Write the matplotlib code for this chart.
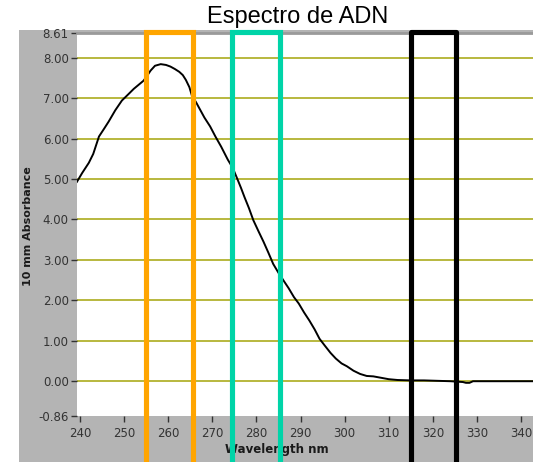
import matplotlib
matplotlib.use("Agg")
import matplotlib.pyplot as plt
from matplotlib.lines import Line2D
from matplotlib.patches import Rectangle
from matplotlib.transforms import blended_transform_factory

# espectro
wavelength = [239.3, 240.5, 242.0, 243.0, 244.3, 245.5, 246.5, 248.0, 249.5, 251.0,
              252.2, 253.3, 254.4, 255.2, 256.0, 257.0, 258.3, 259.5, 260.5, 261.5,
              262.5, 263.3, 264.0, 264.8, 265.4, 266.3, 267.3, 268.2, 269.5, 270.7,
              272.0, 273.5, 274.6, 275.6, 276.5, 277.3, 278.3, 279.3, 280.5, 281.6,
              282.7, 283.8, 285.0, 286.2, 287.3, 288.5, 289.6, 290.8, 292.0, 293.2,
              294.3, 295.5, 296.8, 298.0, 299.3, 300.5, 302.0, 303.5, 305.0, 306.5,
              308.0, 310.0, 312.0, 315.0, 318.0, 321.0, 324.0, 326.8, 327.5, 328.3,
              329.1, 332.0, 336.0, 340.0, 343.0]
absorbance = [4.93, 5.15, 5.40, 5.62, 6.05, 6.25, 6.42, 6.70, 6.94, 7.10,
              7.23, 7.33, 7.43, 7.55, 7.68, 7.80, 7.84, 7.82, 7.78, 7.72,
              7.65, 7.57, 7.45, 7.27, 7.05, 6.90, 6.70, 6.52, 6.30, 6.05,
              5.80, 5.48, 5.28, 5.02, 4.78, 4.55, 4.28, 3.98, 3.70, 3.45,
              3.18, 2.90, 2.68, 2.48, 2.30, 2.08, 1.92, 1.70, 1.50, 1.28,
              1.05, 0.88, 0.70, 0.56, 0.44, 0.37, 0.26, 0.18, 0.13, 0.12,
              0.09, 0.05, 0.03, 0.02, 0.02, 0.01, 0.00, -0.02, -0.04, -0.04,
              0.00, 0.00, 0.00, 0.00, 0.00]

y_ticks = [-0.86, 0, 1, 2, 3, 4, 5, 6, 7, 8, 8.61]
x_ticks = list(range(240, 341, 10))

# bandas marcadas (nm)
bands = [(255.0, 265.7, "#FFA500"), (274.4, 285.3, "#00D4A8"), (315.1, 325.3, "black")]

fig = plt.figure(figsize=(5.33, 4.62), dpi=100)
fig.patch.set_facecolor("white")
fig.add_artist(Rectangle((19 / 533, 0), 1 - 19 / 533, (462 - 30) / 462,
                         transform=fig.transFigure, facecolor="#B4B4B4",
                         edgecolor="none", zorder=-10))

ax = fig.add_axes([77 / 533, 1 - 416 / 462, (533 - 77) / 533, (416 - 33) / 462])
ax.set_facecolor("white")

for v in range(0, 9):
    ax.axhline(v, color="#ABAB1E", lw=1.2, zorder=1)

ax.plot(wavelength, absorbance, color="black", lw=1.4, zorder=3)

ax.set_xlim(239.32, 342.7)
ax.set_ylim(-0.86, 8.61)
ax.set_yticks(y_ticks)
ax.set_yticklabels([f"{v:.2f}" for v in y_ticks])
ax.set_xticks(x_ticks)
ax.tick_params(axis="both", colors="#333333", labelsize=8.5, length=4, width=1)
ax.tick_params(axis="y", pad=2)
ax.tick_params(axis="x", pad=4)

for s in ["left", "right", "bottom"]:
    ax.spines[s].set_visible(False)
ax.spines["top"].set_color("#9A9A9A")
ax.spines["top"].set_linewidth(2)

fig.text(28 / 533, 1 - 226 / 462, "10 mm Absorbance", rotation=90, fontsize=8,
         fontweight="bold", ha="center", va="center", color="#1A1A1A")
fig.text(277 / 533, 1 - 450 / 462, "Wavelength nm", fontsize=8.5,
         fontweight="bold", ha="center", va="center", color="#1A1A1A")
fig.text(298 / 533, 1 - 17 / 462, "Espectro de ADN", fontsize=17,
         family="Liberation Sans", ha="center", va="center", color="black")

trans = blended_transform_factory(ax.transData, fig.transFigure)
y_top = 1 - 31.5 / 462
for x0, x1, col in bands:
    join = "round" if col == "black" else "miter"
    fig.add_artist(Line2D([x0, x0, x1, x1], [-0.02, y_top, y_top, -0.02],
                          transform=trans, color=col, lw=3.7,
                          solid_joinstyle=join, zorder=10))

fig.savefig("out.png", dpi=100)
